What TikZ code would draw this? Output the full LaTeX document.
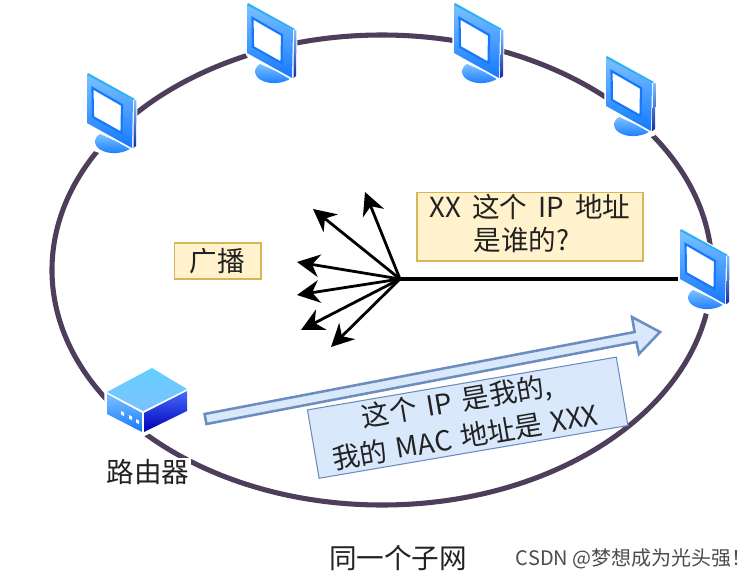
\documentclass[tikz,border=0pt]{standalone}
\usepackage{fontspec}
\setmainfont{Noto Sans CJK SC}
\usetikzlibrary{arrows.meta}
\definecolor{ringcol}{HTML}{4F3D5C}
\definecolor{noteyellow}{HTML}{FFF2CC}
\definecolor{noteyellowline}{HTML}{D6B656}
\definecolor{noteblue}{HTML}{DAE8FC}
\definecolor{noteblueline}{HTML}{6C8EBF}
\definecolor{labelgrey}{HTML}{222222}
\definecolor{deskblue}{HTML}{1478FF}
\definecolor{skyblue}{HTML}{7CC2FF}
\definecolor{edgecyan}{HTML}{2FB0F5}
\definecolor{navyblue}{HTML}{1B2A9C}
\newcommand{\gap}{\hspace{0.18em}}
\tikzset{
  x=0.75pt,y=-0.75pt,
  ring/.style={draw=ringcol,line width=3.8pt},
  yellownote/.style={draw=noteyellowline,fill=noteyellow,line width=1pt,text=labelgrey,font=\fontsize{20.7}{26}\selectfont,align=center,inner sep=0pt},
  bluenote/.style={draw=noteblueline,fill=noteblue,line width=0.8pt,text=labelgrey,font=\fontsize{20.7}{27.5}\selectfont,align=center,inner sep=0pt},
  plainlabel/.style={text=labelgrey,font=\fontsize{20.7}{24}\selectfont,inner sep=1pt},
  ray/.style={draw=black,line width=2.1pt,-{Stealth[length=17pt,width=17pt,inset=5.5pt]}},
  pics/monitor/.style={code={
    % white halo behind the whole unit
    \draw[white,line width=2.5pt,fill=white,line join=round]
      (0,0) -- (49,27) -- (48,78) -- (30,84) -- (6,76) -- (6,60) -- (0,50) -- cycle;
    % stand
    \shade[top color=skyblue,bottom color=deskblue]
      (13,61) .. controls (6,65) and (6,74) .. (16,78) .. controls (25,82) and (38,80) .. (44,75) -- cycle;
    \draw[white,line width=1.5pt] (0,50) -- (45,76);
    % display face
    \shade[top color=skyblue,bottom color=deskblue] (0,1) -- (46,27) -- (45,75) -- (0,50) -- cycle;
    % top highlight and side strip
    \fill[edgecyan] (1,0) -- (48,26) -- (46,27) -- (0,2) -- cycle;
    \shade[top color=skyblue,bottom color=navyblue] (47,27) -- (49.5,27) -- (49,73) -- (46.5,75) -- cycle;
    % screen
    \draw[draw=deskblue,line width=1.6pt,fill=white] (5.5,15) -- (35,32) -- (34.5,60) -- (6,44) -- cycle;
  }},
}
\begin{document}
\begin{tikzpicture}
  \useasboundingbox (0,0) rectangle (753,578);
  \fill[white] (0,0) rectangle (753,578);

  % subnet ring
  \draw[ring] (382,270) ellipse [x radius=330,y radius=235];

  % hosts
  \pic (hostA) at (87,73) {monitor};
  \pic (hostB) at (247,3) {monitor};
  \pic (hostC) at (454,3) {monitor};
  \pic (hostD) at (606,56) {monitor};
  \pic (hostE) at (680,229) {monitor};

  % router
  \draw[white,line width=2.5pt,line join=round,fill=white]
    (152,367) -- (188,389) -- (188,412) -- (143,435) -- (106,414) -- (106,391) -- cycle;
  \shade[top color=skyblue!80!cyan,bottom color=skyblue] (152,368) -- (187,389) -- (143,411) -- (107,392) -- cycle;
  \shade[top color=skyblue,bottom color=deskblue] (107,394) -- (142,413) -- (142,432) -- (107,414) -- cycle;
  \shade[top color=blue!45!skyblue,bottom color=blue!70!black] (144,413) -- (187,391) -- (187,411) -- (144,432) -- cycle;
  \fill[white] (121,411) -- (124,412.5) -- (124,416) -- (121,414.5) -- cycle
               (129,415) -- (132,416.5) -- (132,420) -- (129,418.5) -- cycle
               (136,419) -- (139,420.5) -- (139,424) -- (136,422.5) -- cycle;

  % broadcast rays
  \coordinate (hub) at (400,279);
  \coordinate (ray1) at (365,192);
  \coordinate (ray2) at (313,209);
  \coordinate (ray3) at (297,262);
  \coordinate (ray4) at (297,295);
  \coordinate (ray5) at (301,330);
  \coordinate (ray6) at (331,347);
  \coordinate (hostEport) at (678,279);
  \draw[black,line width=2.3pt] (hub) -- (hostEport);
  \foreach \tip in {ray1,ray2,ray3,ray4,ray5,ray6}
    \draw[ray] (hub) -- (\tip);

  % reply arrow from router to host
  \draw[draw=noteblueline,fill=noteblue,line width=1.9pt,line join=miter]
    (204.6,414) -- (634.6,332) -- (632,317) -- (660,332) -- (639,354) -- (636.4,342) -- (206.4,424) -- cycle;

  % labels
  \node[yellownote,minimum width=169.5pt,minimum height=51.5pt] (question) at (530,226.5) {};
  \node[text=labelgrey,font=\fontsize{20.7}{26}\selectfont,inner sep=0pt] (questionA) at (question.center)
    [yshift=-0.5pt] {\begin{tabular}{@{}c@{}}XX\gap{} 这个\gap{} IP\gap{} 地址\\[-1.5pt]是谁的?\kern 0.6em\end{tabular}};
  \node[yellownote,minimum width=65pt,minimum height=27pt] (broadcast) at (217.5,261) {广播};
  \node[bluenote,rotate=9.7,minimum width=235pt,minimum height=52pt] (reply) at (467.7,417.7)
    {这个\hspace{0.15em} IP\hspace{0.15em} 是我的,\kern 0.58em\\我的\hspace{0.1em} MAC\hspace{0.1em} 地址是\hspace{0.1em} XXX\kern 0.4em};
  \node[plainlabel,fill=white] (routerlabel) at (148,472) {路由器};
  \node[plainlabel] (subnetlabel) at (398,558) {同一个子网};
  \node[text=black!70,font=\fontsize{15}{17}\selectfont,inner sep=0pt,anchor=east] (mark) at (752,559) {CSDN @梦想成为光头强！};
\end{tikzpicture}
\end{document}
